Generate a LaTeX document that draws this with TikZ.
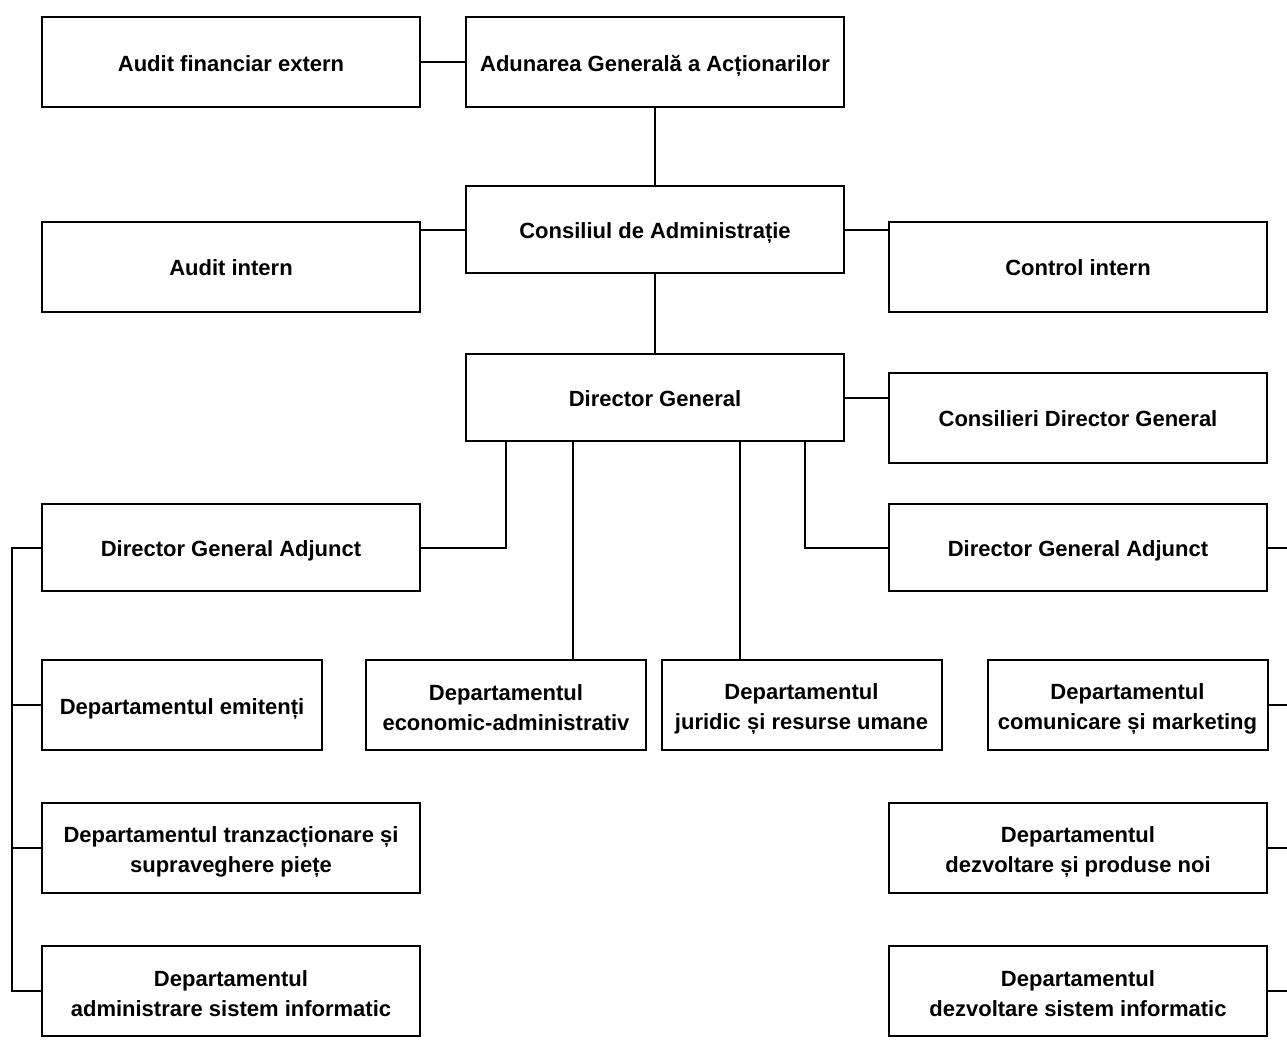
\documentclass[tikz,border=0pt]{standalone}
\usepackage{fontspec}
\setmainfont{Liberation Sans}
\usetikzlibrary{calc}

% doua randuri cu pozitie fixa in caseta
\newcommand{\tworows}[2]{\rule{0pt}{12.5pt}#1\\#2\rule[-2.5pt]{0pt}{0pt}}

\tikzset{
  unit/.style = {draw, line width = 1pt, fill = white, align = center,
    minimum width = 189pt, minimum height = 45pt, inner sep = 2pt,
    font = \fontsize{11}{15}\selectfont\bfseries},
  dept/.style = {unit, minimum width = 140pt},
  oneline/.style = {text height = 9.4pt, text depth = 0pt},
  link/.style = {line width = 1pt}
}

\begin{document}
\begin{tikzpicture}[x = 0.5pt, y = -0.5pt]
\useasboundingbox (0, 0) rectangle (1287, 1051);
\clip (0, 0) rectangle (1287, 1051);

% conducere
\node[unit, oneline] (afe) at (231, 62) {Audit financiar extern};
\node[unit, oneline] (aga) at (655, 62) {Adunarea Generală a Acționarilor};
\node[unit, oneline, minimum height = 43.5pt] (ca) at (655, 229.5) {Consiliul de Administrație};
\node[unit, oneline] (ai) at (231, 266.5) {Audit intern};
\node[unit, oneline] (ci) at (1078, 266.5) {Control intern};
\node[unit, oneline, minimum height = 43.5pt] (dg) at (655, 397.5) {Director General};
\node[unit, oneline] (cdg) at (1078, 417.5) {Consilieri Director General};
\node[unit, oneline, minimum height = 43.5pt] (dgal) at (231, 547.5) {Director General Adjunct};
\node[unit, oneline, minimum height = 43.5pt] (dgar) at (1078, 547.5) {Director General Adjunct};

% departamente
\node[dept, oneline] (dem) at (182, 705) {Departamentul emitenți};
\node[dept] (dea) at (506, 705) {\tworows{Departamentul}{economic-administrativ}};
\node[dept] (djr) at (801.5, 705) {\tworows{Departamentul}{juridic și resurse umane}};
\node[dept] (dcm) at (1127.5, 705) {\tworows{Departamentul}{comunicare și marketing}};
\node[unit] (dtr) at (231, 848) {\tworows{Departamentul tranzacționare și}{supraveghere piețe}};
\node[unit] (dpn) at (1078, 848) {\tworows{Departamentul}{dezvoltare și produse noi}};
\node[unit] (das) at (231, 991) {\tworows{Departamentul}{administrare sistem informatic}};
\node[unit] (dsi) at (1078, 991) {\tworows{Departamentul}{dezvoltare sistem informatic}};

\coordinate (lsp) at (12, 0);
\coordinate (rsp) at (1287, 0);

\draw[link] (afe.east) -- (aga.west);
\draw[link] (aga.south) -- (ca.north);
\draw[link] (ca.west) -- (ca.west -| ai.east);
\draw[link] (ca.east) -- (ca.east -| ci.west);
\draw[link] (ca.south) -- (dg.north);
\draw[link] (dg.east) -- (dg.east -| cdg.west);

\draw[link] ($(dg.south) + (-149, 0)$) |- (dgal.east);
\draw[link] ($(dg.south) + (150, 0)$) |- (dgar.west);
\draw[link] ($(dg.south) + (-82, 0)$) coordinate (d1) -- (d1 |- dea.north);
\draw[link] ($(dg.south) + (85, 0)$) coordinate (d2) -- (d2 |- djr.north);

% ramura stanga
\draw[link] (dgal.west) -- (dgal.west -| lsp) |- (das.west);
\draw[link] (dem.west) -- (dem.west -| lsp);
\draw[link] (dtr.west) -- (dtr.west -| lsp);

% ramura dreapta
\draw[link] (dgar.east) -- (dgar.east -| rsp);
\draw[link] (dcm.east) -- (dcm.east -| rsp);
\draw[link] (dpn.east) -- (dpn.east -| rsp);
\draw[link] (dsi.east) -- (dsi.east -| rsp);
\end{tikzpicture}
\end{document}
